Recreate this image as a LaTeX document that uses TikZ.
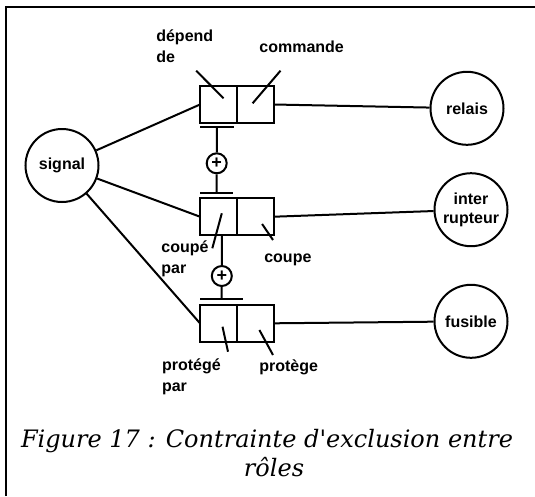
\documentclass[tikz,border=0pt]{standalone}
\usepackage{fontspec}
\newfontfamily\plotfont{Liberation Sans}
\newfontfamily\captionfont{DejaVu Serif}
\usetikzlibrary{positioning}

\begin{document}
\begin{tikzpicture}
[x=1pt,y=-1pt,line width=2pt,
  entitydecorate/.style={shape=circle,draw,inner sep=1pt,minimum size=73pt,
    align=center,font=\plotfont\bfseries\fontsize{16}{19}\selectfont},
  roledecorate/.style={shape=rectangle,draw,inner sep=0pt,outer sep=0pt,
    minimum width=37pt,minimum height=36.5pt},
  exclusiondecorate/.style={shape=circle,draw,inner sep=0pt,minimum size=20pt,
    font=\plotfont\bfseries\fontsize{18}{18}\selectfont},
  labeldecorate/.style={anchor=west,inner sep=0pt,align=left,
    font=\plotfont\bfseries\fontsize{16}{21}\selectfont},
  captiondecorate/.style={inner sep=0pt,font=\captionfont\itshape\fontsize{24}{28}\selectfont}]
\useasboundingbox (0,0) rectangle (535,496);
%% frame
\draw[line width=2.2pt] (6,496) -- (6,7) -- (535,7);
%% entities
\foreach \nodename/\x/\y/\nodetext in {signal/62/165.5/signal,
  relais/467/108.3/relais, inter/471/209.7/{inter\\rupteur},
  fusible/471/321.3/fusible}
{
  \node (\nodename) at (\x,\y) [entitydecorate] {\nodetext};
}
%% facts, two roles each
\foreach \fact/\y in {f1/104.5, f2/216.7, f3/323.3}
{
  \node (\fact-left) at (218.5,\y) [roledecorate] {};
  \node (\fact-right) [roledecorate,right=0pt of \fact-left] {};
}
%% edges or lines
\path
\foreach \startnode/\endnode in {signal/f1-left.west, signal/f2-left.west,
  signal/f3-left.west, f1-right.east/relais, f2-right.east/inter,
  f3-right.east/fusible} {
  (\startnode) edge (\endnode)
};
%% exclusion constraints
\coordinate (bar1) at (217,126.7);
\coordinate (bar2) at (216.5,193.3);
\coordinate (bar3) at (221.5,299.3);
\node (x1) at (216.7,163.3) [exclusiondecorate] {+};
\node (x2) at (221.8,276) [exclusiondecorate] {+};
\foreach \bar/\len in {bar1/34, bar2/33, bar3/43}
  \draw (\bar -| f1-left.west) -- ++(\len,0);
\draw (bar1) -- (x1) -- (bar2);
\draw (f2-left.south -| x2) -- (x2) -- (bar3);
%% role ticks
\foreach \xa/\ya/\xb/\yb in {196.2/70.7/223.5/98.3, 280.5/70.7/252.6/103.3,
  221.8/213.3/212.3/248.3, 262.1/224/273/240,
  222.5/326.7/228/351.7, 259.4/330/273/355}
{
  \draw (\xa,\ya) -- (\xb,\yb);
}
%% role names
\node (dependde) at (155.3,46) [labeldecorate] {dépend\\de};
\node (commande) at (258.4,46.7) [labeldecorate] {commande};
\node (coupepar) at (160.4,258.7) [labeldecorate] {coupé\\par};
\node (coupe) at (263.3,260) [labeldecorate] {coupe};
\node (protegepar) at (161,376.7) [labeldecorate] {protégé\\par};
\node (protege) at (258.3,367.5) [labeldecorate] {protège};
%% caption
\node (caption1) at (267,441) [captiondecorate] {Figure 17 : Contrainte d'exclusion entre};
\node (caption2) at (274,467) [captiondecorate] {rôles};
\end{tikzpicture}
\end{document}
